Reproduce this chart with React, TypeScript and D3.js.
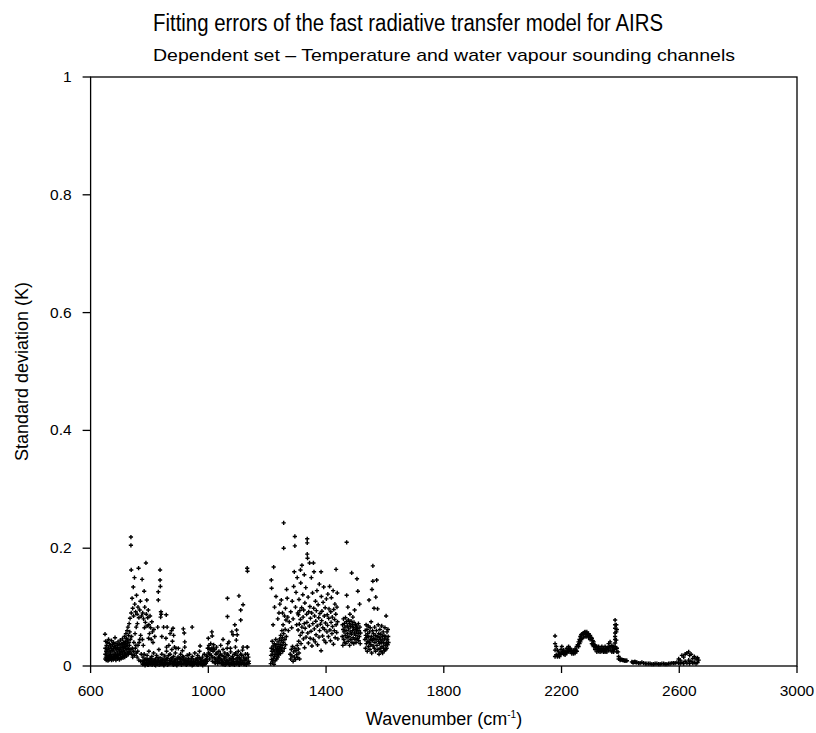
import React from "react";
import * as d3 from "d3";

const titleText = "Fitting errors of the fast radiative transfer model for AIRS";
const subtitleText = "Dependent set \u2013 Temperature and water vapour sounding channels";
const yAxisTitle = "Standard deviation (K)";

const xTicks = [600, 1000, 1400, 1800, 2200, 2600, 3000];
const yTicks = [0, 0.2, 0.4, 0.6, 0.8, 1];
const yTickLabels = ["0", "0.2", "0.4", "0.6", "0.8", "1"];

// Band A: 650-820 cm-1 (dense low block)
const bandABlock: [number, number][] = [
  [649,.054],[650,.02],[650,.03],[651,.042],[652,.015],[653,.025],[654,.035],[655,.018],[656,.028],[657,.04],[658,.012],[659,.022],[660,.032],[661,.045],[662,.017],[663,.027],[664,.038],[666,.014],[667,.024],[668,.034],[669,.02],[670,.03],[671,.043],[672,.016],[673,.026],[675,.036],[676,.019],[677,.029],[678,.04],[679,.015],[680,.024],[681,.033],[683,.048],[684,.02],[685,.03],[686,.038],[687,.017],[689,.027],[690,.035],[691,.022],[692,.031],[693,.041],[695,.018],[696,.028],[697,.037],[698,.024],[700,.032],[701,.044],[702,.02],[703,.029],[704,.038],[706,.025],[707,.034],[708,.046],[709,.022],[710,.031],[711,.04],[712,.027],[714,.036],[715,.05],[716,.024],[717,.033],[718,.042],[719,.03],[720,.055],[721,.038],[722,.047],[723,.028],[724,.06],[725,.035],[726,.044],[727,.066],[728,.03],[729,.052],[730,.04],[731,.072],[732,.035],[733,.058]
];
const bandABlock2: [number, number][] = [
  [650,.012],[653,.01],[656,.013],[659,.009],[662,.011],[665,.016],[668,.012],[671,.01],[674,.014],[677,.011],[680,.015],[683,.013],[686,.01],[689,.016],[692,.012],[695,.014],[698,.011],[701,.015],[704,.013],[707,.016],[710,.014],[713,.018],[716,.015],[719,.02],[722,.017],[725,.022],[728,.02],[731,.025],[734,.022],[737,.028],[740,.02],[743,.015],[746,.025],[749,.018],[752,.03],[755,.022],[758,.015],[761,.035],[764,.01],[767,.045],[770,.008]
];
const bandAUpper: [number, number][] = [
  [734,.081],[735,.045],[737,.219],[737,.205],[738,.163],[738,.09],[739,.05],[741,.115],[742,.03],[743,.098],[745,.134],[746,.085],[747,.04],[749,.15],[750,.105],[751,.055],[753,.092],[754,.035],[755,.066],[756,.12],[758,.088],[759,.072],[760,.025],[761,.1],[763,.166],[764,.082],[765,.04],[767,.095],[769,.11],[770,.052],[772,.02],[773,.085],[775,.147],[776,.045],[777,.09],[779,.035],[780,.08],[782,.127],[783,.065],[784,.1],[786,.074],[788,.175],[789,.088],[791,.112],[792,.068],[794,.082],[796,.095],[797,.047],[798,.07],[800,.055],[802,.085],[804,.065],[806,.045],[808,.075],[810,.058],[812,.04],[815,.062],[818,.05]
];

// Band B: 775-1140 cm-1 (mostly near zero)
const bandBFloor: [number, number][] = [
  [775,.008],[778,.015],[780,.004],[782,.02],[784,.01],[786,.003],[788,.012],[790,.006],[792,.018],[794,.002],[796,.009],[798,.025],[800,.005],[802,.013],[804,.003],[806,.008],[808,.016],[810,.004],[812,.01],[814,.022],[816,.006],[818,.002],[820,.012],[822,.005],[824,.018],[826,.008],[828,.003],[830,.01],[832,.028],[834,.006],[836,.014],[838,.003],[840,.009],[842,.02],[844,.005],[846,.012],[848,.002],[850,.007],[852,.017],[854,.004],[856,.01],[858,.025],[860,.006],[862,.013],[864,.003],[866,.035],[868,.009],[870,.02],[872,.005],[874,.012],[876,.028],[878,.004],[880,.008],[882,.016],[884,.003],[886,.01],[888,.022],[890,.005],[892,.002],[894,.012],[896,.007],[898,.03],[900,.004],[902,.014],[904,.008],[906,.02],[908,.003],[910,.011],[912,.026],[914,.005],[916,.015],[918,.009],[920,.032],[922,.004],[924,.012],[926,.006],[928,.018],[930,.003],[932,.01],[934,.005],[936,.02],[938,.008],[940,.003],[942,.012],[944,.005],[946,.016],[948,.002],[950,.008],[952,.004],[954,.022],[956,.006],[958,.012],[960,.003],[962,.009],[964,.018],[966,.004],[968,.007],[970,.025],[972,.005],[974,.012],[976,.003],[978,.009],[980,.015],[982,.004],[984,.007],[986,.02],[988,.003],[990,.01],[992,.005],[994,.017],[996,.008],[998,.03],[1000,.022],[1002,.035],[1004,.012],[1006,.028],[1008,.038],[1010,.018],[1012,.03],[1014,.008],[1016,.025],[1018,.036],[1020,.014],[1022,.028],[1024,.005],[1026,.02],[1028,.032],[1030,.01],[1032,.004],[1034,.015],[1036,.025],[1038,.006],[1040,.012],[1042,.035],[1044,.004],[1046,.018],[1048,.008],[1050,.028],[1052,.003],[1054,.012],[1056,.022],[1058,.006],[1060,.015],[1062,.004],[1064,.03],[1066,.009],[1068,.018],[1070,.003],[1072,.012],[1074,.006],[1076,.024],[1078,.004],[1080,.01],[1082,.016],[1084,.003],[1086,.008],[1088,.02],[1090,.005],[1092,.032],[1094,.012],[1096,.004],[1098,.018],[1100,.008],[1102,.025],[1104,.003],[1106,.014],[1108,.006],[1110,.02],[1112,.004],[1114,.01],[1116,.027],[1118,.005],[1120,.015],[1122,.003],[1124,.009],[1126,.02],[1128,.004],[1130,.012],[1132,.032],[1134,.006],[1136,.015],[1138,.004]
];
const bandBFloor2: [number, number][] = [
  [777,.003],[781,.009],[785,.001],[789,.006],[793,.011],[797,.002],[801,.007],[805,.012],[809,.002],[813,.005],[817,.009],[821,.001],[825,.006],[829,.014],[833,.002],[837,.008],[841,.004],[845,.01],[849,.001],[853,.006],[857,.012],[861,.002],[865,.018],[869,.004],[873,.008],[877,.014],[881,.002],[885,.006],[889,.011],[893,.001],[897,.015],[901,.005],[905,.012],[909,.002],[913,.016],[917,.004],[921,.009],[925,.002],[929,.007],[933,.013],[937,.003],[941,.006],[945,.001],[949,.01],[953,.003],[957,.006],[961,.012],[965,.002],[969,.014],[973,.004],[977,.007],[981,.001],[985,.009],[989,.004],[993,.011],[997,.016],[1001,.03],[1005,.02],[1009,.028],[1013,.015],[1017,.03],[1021,.006],[1025,.012],[1029,.022],[1033,.008],[1037,.015],[1041,.02],[1045,.01],[1049,.003],[1053,.016],[1057,.002],[1061,.009],[1065,.02],[1069,.006],[1073,.002],[1077,.013],[1081,.004],[1085,.012],[1089,.002],[1093,.022],[1097,.007],[1101,.014],[1105,.002],[1109,.01],[1113,.018],[1117,.006],[1121,.003],[1125,.012],[1129,.002],[1133,.02],[1137,.008]
];
const bandBUpper: [number, number][] = [
  [836,.163],[836,.146],[837,.135],[839,.092],[838,.083],[840,.088],[857,.087],[880,.064],[882,.052],[875,.06],[870,.055],[848,.066],[860,.066],[878,.042],[915,.063],[918,.056],[920,.041],[945,.066],[972,.034],[830,.126],[830,.112],[828,.066],[842,.05],[856,.047],[858,.032],[885,.032],[890,.03],[1012,.058],[1013,.051],[1065,.115],[1065,.084],[1104,.119],[1118,.104],[1110,.095],[1110,.078],[1090,.07],[1096,.061],[1084,.053],[1098,.053],[1080,.058],[1070,.041],[1132,.166],[1133,.161],[1095,.044],[1118,.032],[1133,.032],[1075,.03],[1066,.038],[1050,.045],[1000,.047]
];

// Band C: 1210-1615 cm-1
const bandCLow: [number, number][] = [
  [1212,.004],[1213,.018],[1214,.03],[1215,.011],[1216,.025],[1217,.042],[1218,.007],[1219,.02],[1220,.034],[1221,.013],[1222,.028],[1223,.003],[1224,.038],[1225,.016],[1226,.024],[1227,.009],[1228,.032],[1229,.045],[1230,.019],[1231,.027],[1232,.012],[1233,.036],[1234,.022],[1235,.03],[1236,.015],[1237,.041],[1238,.026],[1239,.019],[1240,.033],[1241,.024],[1242,.046],[1243,.029],[1244,.037],[1245,.021],[1246,.052],[1247,.031],[1248,.043],[1249,.027],[1250,.06],[1251,.035],[1252,.048],[1253,.025],[1254,.07],[1255,.04],[1256,.055],[1258,.03],[1259,.085],[1260,.045],[1261,.062],[1262,.036],[1264,.078],[1265,.05],
  [1278,.02],[1280,.012],[1282,.028],[1284,.017],[1286,.033],[1288,.008],[1290,.024],[1292,.015],[1294,.03],[1296,.011],[1298,.026],[1300,.019],[1302,.035],[1304,.014],[1306,.029],[1308,.022],[1310,.012]
];
const bandCSparse: [number, number][] = [
  [1214,.146],[1215,.132],[1222,.168],[1220,.07],[1225,.1],[1230,.118],[1236,.08],[1240,.09],[1243,.105],[1248,.112],[1252,.09],[1256,.243],[1256,.2],[1262,.098],[1266,.13],[1268,.115],[1270,.083],
  [1272,.06],[1275,.075],[1280,.092],[1283,.065],[1285,.11],[1288,.08],[1290,.135],[1292,.16],[1294,.22],[1294,.204],[1296,.1],[1298,.125],[1300,.07],[1302,.15],[1304,.09],
  [1313,.163],[1318,.171],[1326,.155],[1357,.175],[1383,.16],[1434,.164]
];
const bandCMain: [number, number][] = [
  [1305,.061],[1306,.087],[1307,.042],[1308,.113],[1309,.071],[1311,.094],[1312,.052],[1313,.079],[1314,.141],[1315,.038],[1317,.099],[1318,.066],[1319,.057],[1321,.121],[1322,.083],[1323,.046],[1324,.095],[1326,.072],[1327,.031],[1328,.107],[1329,.064],[1331,.133],[1332,.049],[1334,.088],[1335,.074],[1336,.216],[1336,.209],[1336,.19],[1337,.183],[1338,.056],[1339,.117],[1340,.039],[1341,.092],[1343,.068],[1344,.175],[1345,.101],[1346,.047],[1347,.081],[1349,.059],[1350,.15],[1351,.09],[1352,.034],[1354,.124],[1355,.072],[1357,.045],[1358,.098],[1359,.16],[1360,.063],[1361,.085],[1363,.041],[1364,.11],[1365,.076],[1366,.053],[1367,.094],[1369,.128],[1370,.068],[1371,.036],[1373,.104],[1375,.082],[1376,.049],[1377,.139],[1378,.06],[1379,.089],[1381,.071],[1383,.026],[1384,.118],[1385,.077],[1386,.093],[1388,.051],[1389,.065],[1390,.108],[1392,.134],[1393,.044],[1394,.085],[1395,.062],[1397,.099],[1398,.073],[1399,.04],[1401,.114],[1403,.058],[1404,.087],[1405,.069],[1406,.122],[1408,.05],[1409,.081],[1410,.097],[1412,.135],[1413,.061],[1415,.043],[1416,.092],[1417,.074],[1418,.116],[1420,.055],[1421,.083],[1422,.067],[1424,.128],[1425,.037],[1426,.096],[1428,.06],[1429,.079],[1430,.105],[1431,.048],[1433,.088],[1434,.07],[1436,.057],[1437,.1],[1438,.124],[1439,.075],[1440,.046]
];
const bandC2: [number, number][] = [
  [1455,.05],[1456,.07],[1457,.035],[1458,.062],[1459,.08],[1460,.045],[1461,.058],[1462,.072],[1463,.04],[1464,.066],[1465,.052],[1466,.082],[1467,.038],[1468,.06],[1469,.075],[1470,.21],[1470,.12],[1471,.048],[1472,.068],[1473,.055],[1474,.1],[1475,.042],[1476,.078],[1477,.063],[1478,.05],[1479,.072],[1480,.035],[1481,.088],[1482,.058],[1483,.067],[1484,.045],[1485,.076],[1486,.054],[1487,.158],[1488,.04],[1489,.07],[1490,.06],[1491,.083],[1492,.048],[1493,.065],[1494,.038],[1495,.074],[1496,.056],[1497,.095],[1498,.045],[1499,.062],[1500,.07],[1501,.052],[1502,.04],[1503,.068],[1504,.058],[1505,.148],[1506,.047],[1507,.064],[1508,.127],[1509,.055],[1510,.072],[1511,.043],[1512,.06],[1513,.05],[1514,.105],[1515,.066],[1516,.038],[1517,.056]
];
const bandC3: [number, number][] = [
  [1532,.045],[1533,.06],[1534,.03],[1535,.052],[1536,.07],[1537,.038],[1538,.048],[1539,.062],[1540,.025],[1541,.055],[1542,.042],[1543,.068],[1544,.033],[1545,.05],[1546,.112],[1547,.04],[1548,.058],[1549,.028],[1550,.065],[1551,.045],[1552,.036],[1553,.075],[1554,.05],[1555,.022],[1556,.13],[1557,.043],[1558,.06],[1559,.17],[1559,.144],[1560,.034],[1561,.055],[1562,.047],[1563,.098],[1564,.03],[1565,.066],[1566,.04],[1567,.052],[1568,.025],[1569,.117],[1570,.045],[1571,.06],[1572,.146],[1573,.035],[1574,.05],[1575,.097],[1576,.028],[1577,.07],[1578,.042],[1579,.055],[1580,.02],[1581,.048],[1582,.038],[1583,.062],[1584,.03],[1585,.045],[1586,.054],[1587,.025],[1588,.04],[1589,.068],[1590,.033],[1591,.05],[1592,.022],[1593,.044],[1594,.058],[1595,.03],[1596,.039],[1597,.052],[1598,.026],[1599,.046],[1600,.065],[1601,.035],[1602,.028],[1603,.05],[1604,.085],[1605,.04],[1606,.03],[1607,.058],[1608,.045],[1609,.036],[1610,.062],[1611,.05],[1612,.04]
];

// Band D: 2178-2666 cm-1
const bandD: [number, number][] = [
  [2178,.051],[2178,.038],[2178,.027],[2178,.016],[2182,.033],[2182,.019],[2186,.027],[2186,.016],[2190,.024],[2190,.018],[2193,.021],[2193,.016],[2198,.028],[2198,.02],[2201,.033],[2201,.022],[2204,.025],[2207,.027],[2207,.02],[2210,.022],[2212,.025],[2212,.019],[2215,.023],[2218,.03],[2218,.022],[2221,.027],[2224,.033],[2224,.025],[2227,.028],[2229,.03],[2229,.024],[2232,.026],[2235,.027],[2235,.021],[2238,.024],[2241,.026],[2241,.021],[2244,.024],[2246,.029],[2246,.022],[2249,.027],[2252,.033],[2252,.025],[2255,.036],[2258,.041],[2258,.033],[2261,.045],[2261,.038],[2264,.05],[2264,.041],[2267,.053],[2267,.045],[2269,.054],[2269,.047],[2272,.055],[2275,.056],[2275,.049],[2278,.057],[2280,.058],[2280,.05],[2283,.054],[2286,.058],[2286,.05],[2289,.054],[2292,.055],[2292,.049],[2295,.051],[2297,.052],[2297,.045],[2300,.048],[2303,.047],[2303,.038],[2306,.043],[2306,.036],[2309,.041],[2309,.033],[2312,.036],[2314,.035],[2314,.028],[2317,.031],[2320,.033],[2320,.024],[2323,.028],[2326,.033],[2326,.025],[2329,.028],[2331,.03],[2331,.024],[2334,.027],[2337,.033],[2337,.025],[2340,.028],[2343,.03],[2343,.024],[2346,.027],[2348,.033],[2348,.024],[2351,.028],[2354,.03],[2354,.024],[2357,.031],[2360,.038],[2360,.027],[2363,.033],[2365,.041],[2365,.027],[2368,.032],[2371,.035],[2371,.024],[2374,.029],[2377,.033],[2377,.024],[2380,.028],
  [2382,.078],[2382,.07],[2382,.064],[2382,.056],[2382,.05],[2382,.045],[2382,.039],[2382,.033],[2386,.07],[2386,.058],[2386,.044],[2386,.03],[2388,.062],[2388,.03],[2388,.024],[2392,.024],[2394,.016],[2394,.012],[2399,.012],[2399,.01],[2402,.011],[2405,.011],[2408,.01],[2411,.01],[2414,.009],[2416,.009],[2419,.009],[2422,.009],
  [2439,.007],[2442,.006],[2445,.006],[2448,.007],[2450,.007],[2453,.006],[2456,.006],[2462,.005],[2467,.005],[2473,.006],[2479,.005],[2485,.004],[2490,.004],[2496,.004],[2501,.004],[2507,.003],[2513,.003],[2518,.004],[2524,.004],[2530,.003],[2535,.003],[2541,.004],[2547,.004],[2552,.003],[2558,.003],[2564,.004],[2569,.004],[2575,.005],[2581,.005],[2586,.005],[2592,.006],[2598,.012],[2598,.005],[2603,.01],[2603,.004],[2609,.018],[2609,.006],[2615,.015],[2615,.004],[2620,.02],[2620,.008],[2626,.022],[2626,.005],[2632,.024],[2632,.01],[2635,.018],[2635,.004],[2640,.02],[2640,.008],[2646,.013],[2646,.005],[2651,.016],[2651,.006],[2657,.012],[2657,.004],[2662,.014],[2662,.006],[2666,.01]
];

const allSeries = [bandABlock, bandABlock2, bandAUpper, bandBFloor, bandBFloor2, bandBUpper, bandCLow, bandCSparse, bandCMain, bandC2, bandC3, bandD];

const W = 816, H = 733;
const L = 90.6, R = 797, T = 77, B = 666;
const FONT = "'Liberation Sans Narrow', 'Liberation Sans', Arial, Helvetica, sans-serif";

export default function App() {
  const x = d3.scaleLinear().domain([600, 3000]).range([L, R]);
  const y = d3.scaleLinear().domain([0, 1]).range([B, T]);
  const sym = d3.symbol(d3.symbolCross, 10)() as string;
  const pts = allSeries.flat();
  return (
    <svg width={W} height={H} style={{ position: "absolute", left: 0, top: 0, background: "#fff" }} fontFamily={FONT}>
      <rect x={0} y={0} width={W} height={H} fill="#fff" />
      <text x={408} y={31} textAnchor="middle" fontSize={23} textLength={510} lengthAdjust="spacingAndGlyphs">{titleText}</text>
      <text x={444} y={61} textAnchor="middle" fontSize={17} textLength={582} lengthAdjust="spacingAndGlyphs">{subtitleText}</text>
      <rect x={L} y={T} width={R - L} height={B - T} fill="none" stroke="#000" strokeWidth={1.3} />
      {xTicks.map((t) => (
        <g key={"xt" + t}>
          <line x1={x(t)} x2={x(t)} y1={B} y2={B + 7} stroke="#000" strokeWidth={1.3} />
          <text x={x(t)} y={B + 30} textAnchor="middle" fontSize={15.5}>{t}</text>
        </g>
      ))}
      {yTicks.map((t, i) => (
        <g key={"yt" + t}>
          <line x1={L - 8} x2={L} y1={y(t)} y2={y(t)} stroke="#000" strokeWidth={1.3} />
          <text x={L - 19} y={y(t) + 5} textAnchor="end" fontSize={15.5}>{yTickLabels[i]}</text>
        </g>
      ))}
      <text x={444} y={725} textAnchor="middle" fontSize={18}>
        Wavenumber (cm<tspan fontSize={10} dy={-7}>-1</tspan><tspan dy={7}>)</tspan>
      </text>
      <text transform={`translate(28,${(T + B) / 2}) rotate(-90)`} textAnchor="middle" fontSize={18}>{yAxisTitle}</text>
      <g fill="#000">
        {pts.map((p, i) => (
          <path key={i} d={sym} transform={`translate(${x(p[0])},${y(p[1])})`} />
        ))}
      </g>
    </svg>
  );
}
